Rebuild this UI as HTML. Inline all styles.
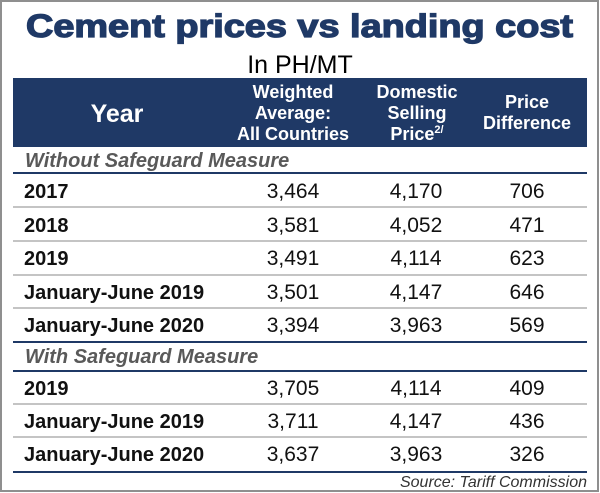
<!DOCTYPE html>
<html>
<head>
<meta charset="utf-8">
<style>
  html, body { margin: 0; padding: 0; background: #ffffff; }
  body { width: 600px; height: 493px; overflow: hidden; position: relative; }
  svg { display: block; }
  text { font-family: "Liberation Sans", Arial, sans-serif; }
</style>
</head>
<body>
<svg width="600" height="493" viewBox="0 0 600 493" xmlns="http://www.w3.org/2000/svg">
  <!-- outer frame -->
  <rect x="0" y="0" width="600" height="493" fill="#ffffff"/>
  <rect x="1" y="1" width="597" height="490" fill="none" stroke="#8f8f8f" stroke-width="2"/>

  <!-- title -->
  <text x="26" y="37" font-size="32" font-weight="bold" fill="#1f3966" stroke="#1f3966" stroke-width="1.3" textLength="547" lengthAdjust="spacingAndGlyphs">Cement prices vs landing cost</text>
  <text x="300" y="73" font-size="25" fill="#000000" text-anchor="middle">In PH/MT</text>

  <!-- header bar -->
  <rect x="13" y="78" width="574" height="69" fill="#1f3966"/>
  <text x="117" y="122" font-size="25" font-weight="bold" fill="#ffffff" text-anchor="middle">Year</text>

  <g font-size="18" font-weight="bold" fill="#ffffff" text-anchor="middle">
    <text x="293" y="98">Weighted</text>
    <text x="293" y="119">Average:</text>
    <text x="293" y="140">All Countries</text>

    <text x="417" y="98">Domestic</text>
    <text x="417" y="119">Selling</text>
    <text x="417" y="140">Price<tspan font-size="11" dy="-7">2/</tspan></text>

    <text x="527" y="108">Price</text>
    <text x="527" y="129">Difference</text>
  </g>

  <!-- section headings -->
  <g font-size="20" font-weight="bold" font-style="italic" fill="#595959">
    <text x="25" y="167">Without Safeguard Measure</text>
    <text x="25" y="363">With Safeguard Measure</text>
  </g>

  <!-- rule lines -->
  <g stroke="#c4c4c4" stroke-width="2">
    <line x1="13" y1="207" x2="587" y2="207"/>
    <line x1="13" y1="241" x2="587" y2="241"/>
    <line x1="13" y1="275" x2="587" y2="275"/>
    <line x1="13" y1="308" x2="587" y2="308"/>
    <line x1="13" y1="404" x2="587" y2="404"/>
    <line x1="13" y1="437" x2="587" y2="437"/>
  </g>
  <g stroke="#1f3966" stroke-width="2">
    <line x1="13" y1="173" x2="587" y2="173"/>
    <line x1="13" y1="342" x2="587" y2="342"/>
    <line x1="13" y1="371" x2="587" y2="371"/>
    <line x1="13" y1="472" x2="587" y2="472"/>
  </g>

  <!-- row labels -->
  <g font-size="20" font-weight="bold" fill="#111111">
    <text x="24" y="198">2017</text>
    <text x="24" y="232">2018</text>
    <text x="24" y="265">2019</text>
    <text x="24" y="299">January-June 2019</text>
    <text x="24" y="332">January-June 2020</text>
    <text x="24" y="395">2019</text>
    <text x="24" y="428">January-June 2019</text>
    <text x="24" y="461">January-June 2020</text>
  </g>

  <!-- numbers -->
  <g font-size="21" fill="#111111" text-anchor="middle">
    <text x="293" y="198">3,464</text><text x="416" y="198">4,170</text><text x="527" y="198">706</text>
    <text x="293" y="232">3,581</text><text x="416" y="232">4,052</text><text x="527" y="232">471</text>
    <text x="293" y="265">3,491</text><text x="416" y="265">4,114</text><text x="527" y="265">623</text>
    <text x="293" y="299">3,501</text><text x="416" y="299">4,147</text><text x="527" y="299">646</text>
    <text x="293" y="332">3,394</text><text x="416" y="332">3,963</text><text x="527" y="332">569</text>
    <text x="293" y="395">3,705</text><text x="416" y="395">4,114</text><text x="527" y="395">409</text>
    <text x="293" y="428">3,711</text><text x="416" y="428">4,147</text><text x="527" y="428">436</text>
    <text x="293" y="461">3,637</text><text x="416" y="461">3,963</text><text x="527" y="461">326</text>
  </g>

  <!-- source -->
  <text x="587" y="487" font-size="16" font-style="italic" fill="#333333" text-anchor="end">Source: Tariff Commission</text>
</svg>
</body>
</html>
